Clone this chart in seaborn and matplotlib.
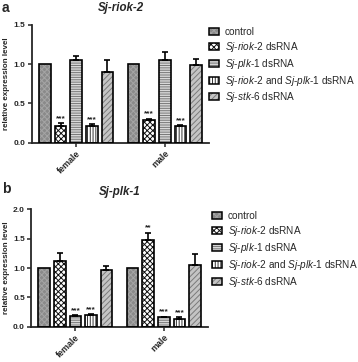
import matplotlib
matplotlib.use("Agg")
import matplotlib.pyplot as plt
from matplotlib.patches import Rectangle, Patch
import seaborn as sns
import pandas as pd

groups = ["female", "male"]
treatments = ["control", "Sj-riok-2 dsRNA", "Sj-plk-1 dsRNA",
              "Sj-riok-2 and Sj-plk-1 dsRNA", "Sj-stk-6 dsRNA"]
legend_labels = ["control",
                 r"$\mathit{Sj}$-$\mathit{riok}$-$\mathit{2}$ dsRNA",
                 r"$\mathit{Sj}$-$\mathit{plk}$-$\mathit{1}$ dsRNA",
                 r"$\mathit{Sj}$-$\mathit{riok}$-$\mathit{2}$ and $\mathit{Sj}$-$\mathit{plk}$-$\mathit{1}$ dsRNA",
                 r"$\mathit{Sj}$-$\mathit{stk}$-$\mathit{6}$ dsRNA"]

riok2_female = [1.0, 0.215, 1.055, 0.215, 0.90]
riok2_female_err = [0.0, 0.035, 0.05, 0.02, 0.155]
riok2_male = [1.0, 0.285, 1.05, 0.21, 0.99]
riok2_male_err = [0.0, 0.02, 0.10, 0.015, 0.07]
riok2_female_sig = ["", "***", "", "***", ""]
riok2_male_sig = ["", "***", "", "***", ""]

plk1_female = [1.0, 1.12, 0.185, 0.20, 0.96]
plk1_female_err = [0.0, 0.14, 0.015, 0.02, 0.08]
plk1_male = [1.0, 1.48, 0.16, 0.14, 1.05]
plk1_male_err = [0.0, 0.12, 0.01, 0.02, 0.19]
plk1_female_sig = ["", "", "***", "***", ""]
plk1_male_sig = ["", "**", "***", "***", ""]

face_colors = ["#8a8a8a", "#ffffff", "#d9d9d9", "#ffffff", "#c4c4c4"]
hatch_colors = ["#a5a5a5", "#111111", "#777777", "#333333", "#7a7a7a"]
hatches = ["xxxxxx", "xxxxxx", "-------", "||||||", "//////"]

sns.set_theme(style="ticks")
plt.rcParams["font.family"] = ["Liberation Sans", "DejaVu Sans"]
plt.rcParams["mathtext.fontset"] = "custom"
plt.rcParams["mathtext.it"] = "Liberation Sans:italic"
plt.rcParams["mathtext.rm"] = "Liberation Sans"
plt.rcParams["hatch.linewidth"] = 0.7

fig = plt.figure(figsize=(3.58, 3.62), dpi=100)
ax1 = fig.add_axes([0.089, 0.606, 0.495, 0.325])
ax2 = fig.add_axes([0.087, 0.097, 0.494, 0.325])


def make_df(fem, fem_err, mal, mal_err):
    rows = []
    for g, vals, errs in (("female", fem, fem_err), ("male", mal, mal_err)):
        for t, v, e in zip(treatments, vals, errs):
            rows.append({"sex": g, "treatment": t, "value": v, "err": e})
    return pd.DataFrame(rows)


def draw(ax, df, sigs, ymax, yticks, title, letter, ly):
    sns.barplot(data=df, x="sex", y="value", hue="treatment", order=groups,
                hue_order=treatments, errorbar=None, width=0.88, gap=0.25,
                ax=ax, legend=False)
    bar_conts = list(ax.containers)
    for hi, cont in enumerate(bar_conts):
        for gi, p in enumerate(list(cont.patches)):
            p.set_facecolor(face_colors[hi])
            p.set_edgecolor(hatch_colors[hi])
            p.set_hatch(hatches[hi])
            p.set_linewidth(0)
            x, w, h = p.get_x(), p.get_width(), p.get_height()
            ax.add_patch(Rectangle((x, 0), w, h, fill=False, edgecolor="black",
                                   linewidth=1.2, zorder=3))
            sub = df[(df.sex == groups[gi]) & (df.treatment == treatments[hi])]
            e = float(sub.err.iloc[0])
            xc = x + w / 2
            if e > 0:
                ax.errorbar([xc], [h], yerr=[[0], [e]], fmt="none", ecolor="black",
                            elinewidth=1.2, capsize=2.5, capthick=1.2, zorder=4)
            s = sigs[gi][hi]
            if s:
                ax.text(xc, h + e + ymax * 0.01, s, ha="center", va="bottom",
                        fontsize=6, fontweight="bold", color="#222222")
    ax.set_ylim(0, ymax)
    ax.set_xlim(-0.5, 1.5)
    ax.set_yticks(yticks)
    ax.set_yticklabels([f"{v:.1f}" for v in yticks], fontsize=6, fontweight="bold")
    ax.set_xticks([0, 1])
    ax.set_xticklabels(groups, rotation=45, ha="right", rotation_mode="anchor",
                       fontsize=6.4, fontweight="bold")
    ax.set_xlabel("")
    ax.set_ylabel("relative expression level", fontsize=5.8, fontweight="bold",
                  labelpad=2.5)
    ax.set_title(title, fontsize=8.3, fontweight="bold", fontstyle="italic", pad=10)
    for side in ("top", "right"):
        ax.spines[side].set_visible(False)
    for side in ("left", "bottom"):
        ax.spines[side].set_linewidth(1.3)
    ax.tick_params(axis="both", length=3, width=1.1, pad=1.5)
    fig.text(0.005, ly, letter, fontsize=10, fontweight="bold", va="top", ha="left")


df1 = make_df(riok2_female, riok2_female_err, riok2_male, riok2_male_err)
df2 = make_df(plk1_female, plk1_female_err, plk1_male, plk1_male_err)
draw(ax1, df1, [riok2_female_sig, riok2_male_sig], 1.5, [0.0, 0.5, 1.0, 1.5],
     "Sj-riok-2", "a", 0.998)
draw(ax2, df2, [plk1_female_sig, plk1_male_sig], 2.0, [0.0, 0.5, 1.0, 1.5, 2.0],
     "Sj-plk-1", "b", 0.497)

handles = []
for fc, hc, hh in zip(face_colors, hatch_colors, hatches):
    handles.append((Patch(facecolor=fc, edgecolor=hc, hatch=hh, linewidth=0),
                    Patch(fill=False, edgecolor="black", linewidth=1.1)))

for anchor in ((0.585, 0.925), (0.593, 0.416)):
    fig.legend(handles, legend_labels, loc="upper left", bbox_to_anchor=anchor,
               frameon=False, fontsize=7.2, handlelength=0.95, handleheight=0.7,
               handletextpad=0.6, labelspacing=0.28, borderpad=0, borderaxespad=0)

fig.savefig("out.png", dpi=100)
